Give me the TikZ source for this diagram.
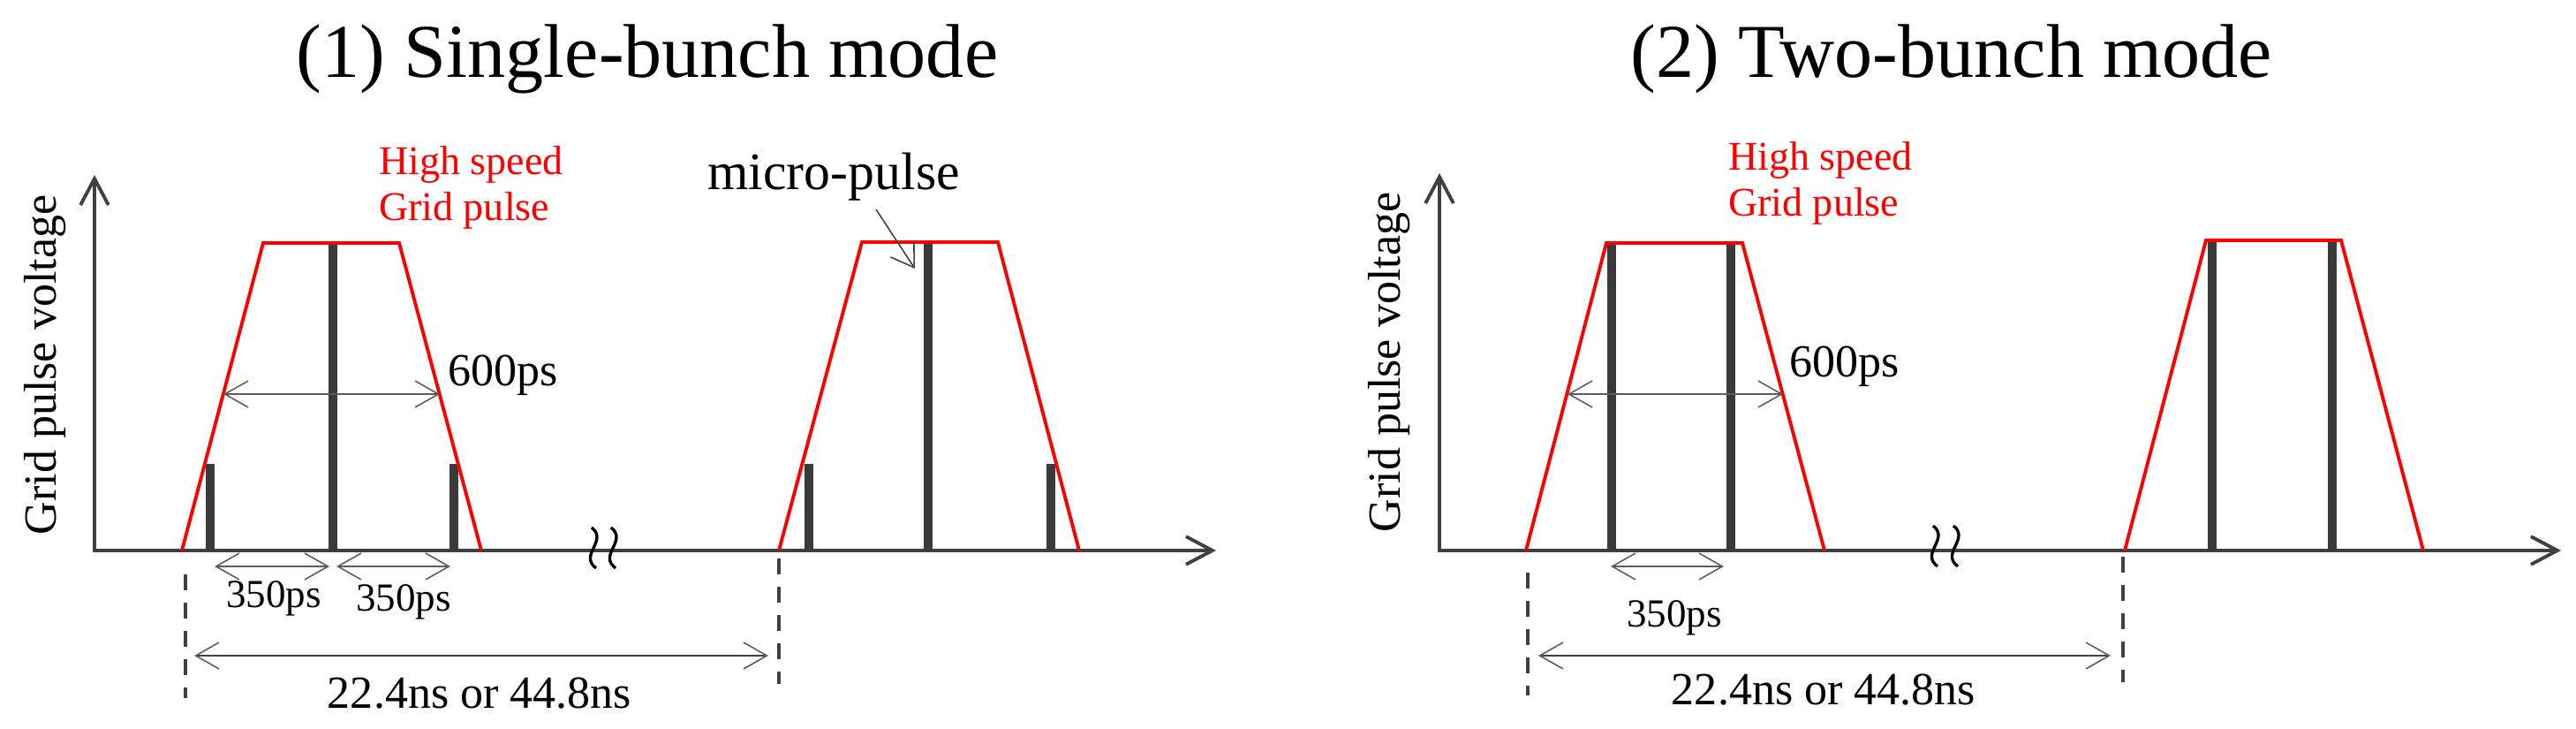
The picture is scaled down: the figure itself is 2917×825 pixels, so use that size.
\documentclass[tikz,border=0pt]{standalone}
\usepackage{fontspec}
\setmainfont{Liberation Serif}
\usetikzlibrary{arrows.meta}
\definecolor{axisgray}{HTML}{404040}
\definecolor{pulsegray}{HTML}{3A3A3A}
\definecolor{thingray}{HTML}{5C5C5C}
\begin{document}
\begin{tikzpicture}[x=0.01cm,y=-0.01cm,
  axisline/.style={draw=axisgray, line width=1.1pt, line join=miter,
    {Straight Barb[length=8.5pt,width=9pt]}-{Straight Barb[length=8.5pt,width=9pt]}},
  trap/.style={draw=red, line width=1.1pt, line join=miter},
  bunch/.style={draw=pulsegray, line width=2.6pt},
  dimarrow/.style={draw=thingray, line width=0.45pt,
    {Straight Barb[length=7.5pt,width=8.5pt]}-{Straight Barb[length=7.5pt,width=8.5pt]}},
  periodarrow/.style={draw=axisgray, line width=0.75pt,
    {Straight Barb[length=7.5pt,width=8.5pt,line width=0.45pt,color=thingray]}-{Straight Barb[length=7.5pt,width=8.5pt,line width=0.45pt,color=thingray]}},
  pointer/.style={draw=axisgray, line width=0.45pt, -{Straight Barb[length=7pt,width=9pt]}},
  guide/.style={draw=axisgray, line width=1.15pt, dash pattern=on 5.1pt off 4pt},
  brk/.style={draw=black, line width=0.95pt},
  txt/.style={inner sep=0pt, outer sep=0pt},
  titletxt/.style={txt, font=\fontsize{24.5}{29}\selectfont},
  midtxt/.style={txt, font=\fontsize{14.8}{17}\selectfont},
  smalltxt/.style={txt, font=\fontsize{12.8}{15}\selectfont},
  redtxt/.style={txt, text=red, font=\fontsize{13.1}{15}\selectfont},
  mptxt/.style={txt, font=\fontsize{17}{20}\selectfont},
  brkmark/.pic={\draw[brk] (-3,-23) .. controls (16,-8) and (-18,8) .. (2,23);}
]
\useasboundingbox (0,0) rectangle (2917,825);

% ================= Panel 1 =================
\node[titletxt, anchor=base] (title1) at (733,88) {(1) Single-bunch mode};
\node[midtxt, anchor=base, rotate=90] (ylab1) at (64,413) {Grid pulse voltage};

\coordinate (ytip1) at (107,198);
\coordinate (orig1) at (107,623);
\coordinate (xtip1) at (1377,623);
\draw[axisline] (ytip1) -- (orig1) -- (xtip1);

% micro-pulses, first bunch train
\draw[bunch] (238,623) -- (238,525);
\draw[bunch] (377,623) -- (377,277);
\draw[bunch] (514,623) -- (514,525);
\draw[trap] (206,623) -- (298,275) -- (452,275) -- (545,623);

% micro-pulses, second
\draw[bunch] (916,623) -- (916,525);
\draw[bunch] (1051,623) -- (1051,276);
\draw[bunch] (1190,623) -- (1190,525);
\draw[trap] (882,623) -- (976,274) -- (1130,274) -- (1222,623);

\node[redtxt, anchor=base west] (hs1a) at (429,198) {High speed};
\node[redtxt, anchor=base west] (hs1b) at (429,250) {Grid pulse};

\coordinate (w1l) at (253,446);
\coordinate (w1r) at (498,446);
\draw[dimarrow] (w1l) -- (w1r);
\node[midtxt, anchor=base west] (t600a) at (507,437) {600ps};

\coordinate (s1a) at (243,641);
\coordinate (s1b) at (373,641);
\coordinate (s1c) at (381,641);
\coordinate (s1d) at (510,641);
\draw[dimarrow] (s1a) -- (s1b);
\draw[dimarrow] (s1c) -- (s1d);
\node[smalltxt, anchor=base] (t350a) at (310,688) {350ps};
\node[smalltxt, anchor=base] (t350b) at (457,692) {350ps};

\coordinate (g1a) at (210,650);
\coordinate (g1b) at (210,790);
\coordinate (g1c) at (882,632);
\coordinate (g1d) at (882,774);
\draw[guide] (g1a) -- (g1b);
\draw[guide] (g1c) -- (g1d);

\coordinate (p1l) at (220,742);
\coordinate (p1r) at (870,742);
\draw[periodarrow] (p1l) -- (p1r);
\node[midtxt, anchor=base] (per1) at (543,802) {22.4ns or 44.8ns};

\node[mptxt, anchor=base] (mp) at (944,215) {micro-pulse};
\coordinate (mpa) at (992,237);
\coordinate (mpb) at (1036,304);
\draw[pointer] (mpa) -- (mpb);

\pic at (673,620) {brkmark};
\pic at (695,620) {brkmark};

% ================= Panel 2 =================
\node[titletxt, anchor=base] (title2) at (2210,88) {(2) Two-bunch mode};
\node[midtxt, anchor=base, rotate=90] (ylab2) at (1585,410) {Grid pulse voltage};

\coordinate (ytip2) at (1630,196);
\coordinate (orig2) at (1630,623);
\coordinate (xtip2) at (2900,623);
\draw[axisline] (ytip2) -- (orig2) -- (xtip2);

\draw[bunch] (1825,623) -- (1825,277);
\draw[bunch] (1960,623) -- (1960,277);
\draw[trap] (1728,623) -- (1819,275) -- (1973,275) -- (2066,623);

\draw[bunch] (2505,623) -- (2505,274);
\draw[bunch] (2641,623) -- (2641,274);
\draw[trap] (2406,623) -- (2498,272) -- (2651,272) -- (2744,623);

\node[redtxt, anchor=base west] (hs2a) at (1957,193) {High speed};
\node[redtxt, anchor=base west] (hs2b) at (1957,245) {Grid pulse};

\coordinate (w2l) at (1775,446);
\coordinate (w2r) at (2019,446);
\draw[dimarrow] (w2l) -- (w2r);
\node[midtxt, anchor=base west] (t600b) at (2026,427) {600ps};

\coordinate (s2a) at (1824,641);
\coordinate (s2b) at (1952,641);
\draw[dimarrow] (s2a) -- (s2b);
\node[smalltxt, anchor=base] (t350c) at (1896,710) {350ps};

\coordinate (g2a) at (1730,648);
\coordinate (g2b) at (1730,787);
\coordinate (g2c) at (2404,630);
\coordinate (g2d) at (2404,772);
\draw[guide] (g2a) -- (g2b);
\draw[guide] (g2c) -- (g2d);

\coordinate (p2l) at (1742,742);
\coordinate (p2r) at (2390,742);
\draw[periodarrow] (p2l) -- (p2r);
\node[midtxt, anchor=base] (per2) at (2065,798) {22.4ns or 44.8ns};

\pic at (2192,618) {brkmark};
\pic at (2215,618) {brkmark};
\end{tikzpicture}
\end{document}
